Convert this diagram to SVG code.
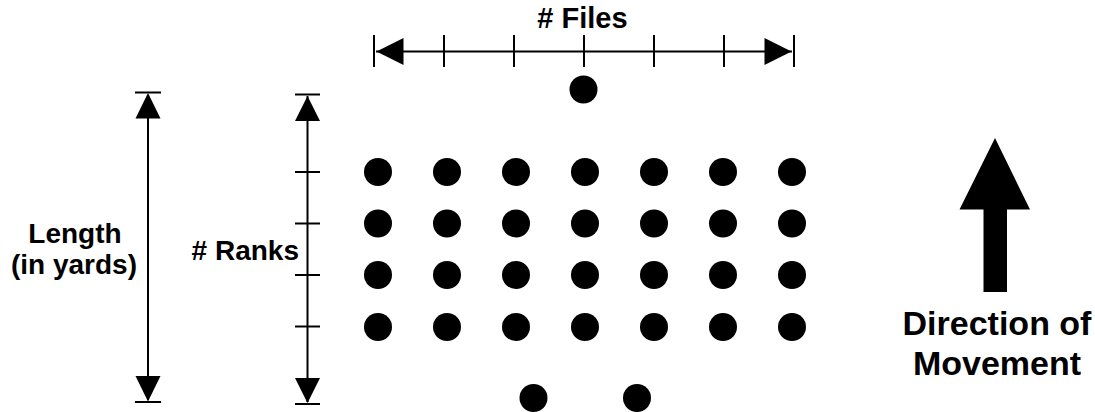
<svg xmlns="http://www.w3.org/2000/svg" width="1095" height="412" viewBox="0 0 1095 412">
<style>
.ln{stroke:#000;stroke-width:2;fill:none}
.ah{fill:#000}
.dot{fill:#000}
.t{font-family:"Liberation Sans",Arial,sans-serif;font-weight:bold;fill:#000}
</style>
<rect width="1095" height="412" fill="#fff"/>
<g id="connectors">
  <g id="files-axis">
    <line class="ln" x1="376" y1="51.5" x2="792" y2="51.5"/>
    <line class="ln" x1="374" y1="35" x2="374" y2="67"/>
    <line class="ln" x1="444" y1="35" x2="444" y2="67"/>
    <line class="ln" x1="514" y1="35" x2="514" y2="67"/>
    <line class="ln" x1="584" y1="35" x2="584" y2="67"/>
    <line class="ln" x1="654" y1="35" x2="654" y2="67"/>
    <line class="ln" x1="724" y1="35" x2="724" y2="67"/>
    <line class="ln" x1="794" y1="35" x2="794" y2="67"/>
    <polygon class="ah" points="376.5,51.5 403.5,38 403.5,65"/>
    <polygon class="ah" points="791.5,51.5 764.5,38 764.5,65"/>
  </g>
  <g id="length-axis">
    <line class="ln" x1="148" y1="95" x2="148" y2="400"/>
    <line class="ln" x1="135" y1="92.5" x2="161" y2="92.5"/>
    <line class="ln" x1="135" y1="402" x2="161" y2="402"/>
    <polygon class="ah" points="148,93 135.5,118.5 160.5,118.5"/>
    <polygon class="ah" points="148,401.5 135.5,376 160.5,376"/>
  </g>
  <g id="ranks-axis">
    <line class="ln" x1="307.5" y1="96" x2="307.5" y2="402"/>
    <line class="ln" x1="295" y1="94.5" x2="320" y2="94.5"/>
    <line class="ln" x1="295" y1="172" x2="320" y2="172"/>
    <line class="ln" x1="295" y1="223.5" x2="320" y2="223.5"/>
    <line class="ln" x1="295" y1="275" x2="320" y2="275"/>
    <line class="ln" x1="295" y1="326.5" x2="320" y2="326.5"/>
    <line class="ln" x1="295" y1="404" x2="320" y2="404"/>
    <polygon class="ah" points="307.5,96 295,121 320,121"/>
    <polygon class="ah" points="307.5,403 295,378 320,378"/>
  </g>
</g>
<g id="labels">
  <text class="t" x="582.5" y="28" font-size="29" text-anchor="middle"># Files</text>
  <text class="t" x="75" y="243" font-size="28" text-anchor="middle">Length</text>
  <text class="t" x="74" y="274" font-size="28" text-anchor="middle">(in yards)</text>
  <text class="t" x="299" y="260" font-size="28" text-anchor="end"># Ranks</text>
</g>
<g id="formation">
  <circle class="dot" cx="583.5" cy="89.5" r="14"/>
  <g id="row1">
    <circle class="dot" cx="378" cy="172" r="14"/>
    <circle class="dot" cx="447" cy="172" r="14"/>
    <circle class="dot" cx="516" cy="172" r="14"/>
    <circle class="dot" cx="585" cy="172" r="14"/>
    <circle class="dot" cx="654" cy="172" r="14"/>
    <circle class="dot" cx="723" cy="172" r="14"/>
    <circle class="dot" cx="792" cy="172" r="14"/>
  </g>
  <g id="row2">
    <circle class="dot" cx="378" cy="223.5" r="14"/>
    <circle class="dot" cx="447" cy="223.5" r="14"/>
    <circle class="dot" cx="516" cy="223.5" r="14"/>
    <circle class="dot" cx="585" cy="223.5" r="14"/>
    <circle class="dot" cx="654" cy="223.5" r="14"/>
    <circle class="dot" cx="723" cy="223.5" r="14"/>
    <circle class="dot" cx="792" cy="223.5" r="14"/>
  </g>
  <g id="row3">
    <circle class="dot" cx="378" cy="275" r="14"/>
    <circle class="dot" cx="447" cy="275" r="14"/>
    <circle class="dot" cx="516" cy="275" r="14"/>
    <circle class="dot" cx="585" cy="275" r="14"/>
    <circle class="dot" cx="654" cy="275" r="14"/>
    <circle class="dot" cx="723" cy="275" r="14"/>
    <circle class="dot" cx="792" cy="275" r="14"/>
  </g>
  <g id="row4">
    <circle class="dot" cx="378" cy="327" r="14"/>
    <circle class="dot" cx="447" cy="327" r="14"/>
    <circle class="dot" cx="516" cy="327" r="14"/>
    <circle class="dot" cx="585" cy="327" r="14"/>
    <circle class="dot" cx="654" cy="327" r="14"/>
    <circle class="dot" cx="723" cy="327" r="14"/>
    <circle class="dot" cx="792" cy="327" r="14"/>
  </g>
  <circle class="dot" cx="533.5" cy="398" r="14"/>
  <circle class="dot" cx="637" cy="398" r="14"/>
</g>
<g id="direction">
  <polygon class="ah" points="995,138 1030,209.5 1007,209.5 1007,292 983.5,292 983.5,209.5 959.5,209.5"/>
  <text class="t" x="997" y="335" font-size="34" text-anchor="middle">Direction of</text>
  <text class="t" x="997" y="375" font-size="34" text-anchor="middle">Movement</text>
</g>
</svg>
